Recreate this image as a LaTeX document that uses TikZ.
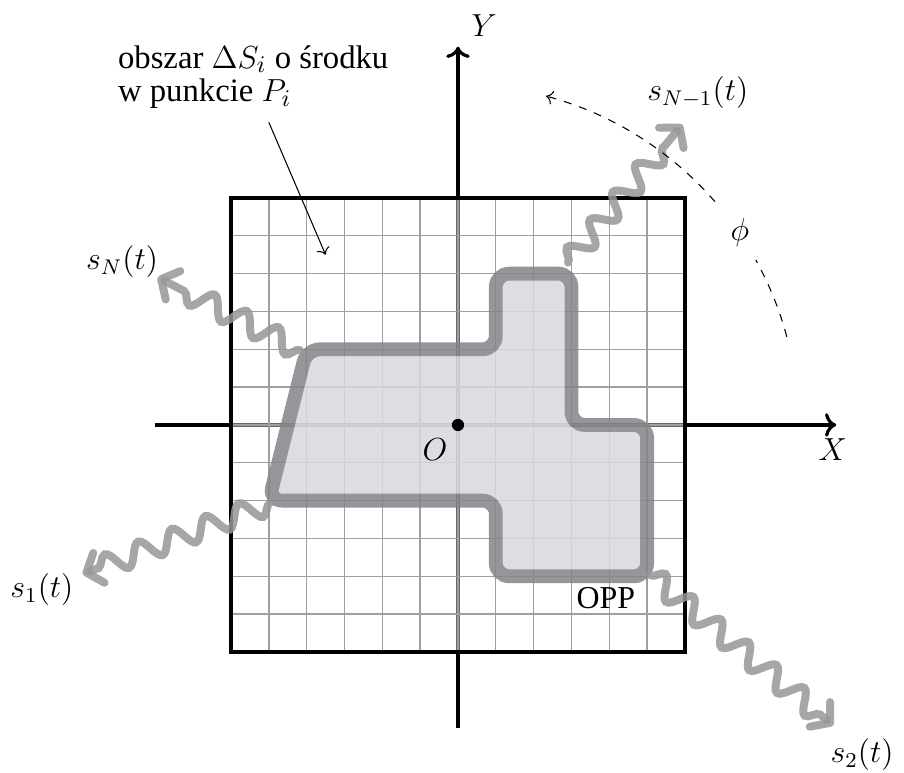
\documentclass[tikz,border=0pt]{standalone}
\usepackage[no-math]{fontspec}
\setmainfont{Liberation Serif}
\usetikzlibrary{arrows.meta,decorations.pathmorphing}
\definecolor{shapefill}{RGB}{216,217,222}
\definecolor{shapeline}{RGB}{131,131,137}
\definecolor{wavecol}{RGB}{150,150,150}
\begin{document}
\begin{tikzpicture}[x=0.5cm,y=0.5cm,font=\fontsize{12}{12.5}\selectfont,
  axis/.style={line width=1.2pt,->},
  gridline/.style={gray!75,line width=0.5pt},
  wave/.style={draw=wavecol,draw opacity=0.85,line width=3pt,line cap=round,
    decorate,decoration={snake,segment length=13.5pt,amplitude=4pt,post length=5pt},
    -{Straight Barb[length=5pt,width=12pt,round]}},
  lbl/.style={inner sep=0pt},
  phiarc/.style={dashed,line width=0.4pt}]
\useasboundingbox (-12.107,-9.199) rectangle (11.790,11.234);
% axes
\coordinate (xl) at (-8,0);
\coordinate (xr) at (10,0);
\coordinate (yb) at (0,-8);
\coordinate (yt) at (0,10);
\draw[axis] (xl) -- (xr);
\draw[axis] (yb) -- (yt);
\node[lbl] (X) at (9.91,-0.66) {$X$};
\node[lbl] (Y) at (0.69,10.57) {$Y$};
% square with grid
\fill[white,fill opacity=0.4] (-6,-6) rectangle (6,6);
\draw[gridline,step=0.5cm] (-6,-6) grid (6,6);
\draw[line width=1.2pt] (-6,-6) rectangle (6,6);
% region
\begin{scope}[transparency group,opacity=0.85]
\draw[line width=5.2pt,rounded corners=5pt,draw=shapeline,fill=shapefill]
  (-4,2) -- (1,2) -- (1,4) -- (3,4) -- (3,0) -- (5,0) -- (5,-4) -- (1,-4)
  -- (1,-2) -- (-5,-2) -- cycle;
\end{scope}
\node[lbl] (OPP) at (3.91,-4.57) {OPP};
% origin
\node[circle,fill=black,inner sep=0pt,minimum size=4.6pt] (O) at (0,0) {};
\node[lbl] (Olbl) at (-0.61,-0.66) {$O$};
% waves
\coordinate (w1a) at (-4.97,-2.06); \coordinate (w1b) at (-9.92,-3.94);
\coordinate (w2a) at (5.08,-3.97);  \coordinate (w2b) at (9.92,-7.94);
\coordinate (wNa) at (-4.18,1.98);  \coordinate (wNb) at (-7.94,3.9);
\coordinate (wMa) at (2.91,4.29);   \coordinate (wMb) at (5.93,7.94);
\draw[wave] (w1a) -- (w1b);
\draw[wave] (w2a) -- (w2b);
\draw[wave] (wNa) -- (wNb);
\draw[wave] (wMa) -- (wMb);
\node[lbl] (s1) at (-11.0,-4.36) {$s_1(t)$};
\node[lbl] (s2) at (10.68,-8.72) {$s_2(t)$};
\node[lbl] (sN) at (-8.88,4.31) {$s_N(t)$};
\node[lbl] (sM) at (6.34,8.78) {$s_{N-1}(t)$};
% phi arc
\draw[phiarc] (15:9) arc[start angle=15,end angle=29,radius=9];
\draw[phiarc,->] (41:9) arc[start angle=41,end angle=75,radius=9];
\node[lbl] (phi) at (7.45,5.10) {$\phi$};
% annotation
\node[lbl,anchor=north west,align=left,font=\fontsize{12.3}{12.6}\selectfont] (ann) at (-9,10.05)
  {obszar $\Delta S_i$ o środku\\ w punkcie $P_i$};
\coordinate (annfrom) at (-5,8);
\coordinate (Pi) at (-3.5,4.5);
\draw[->,line width=0.4pt] (annfrom) -- (Pi);
\end{tikzpicture}
\end{document}
